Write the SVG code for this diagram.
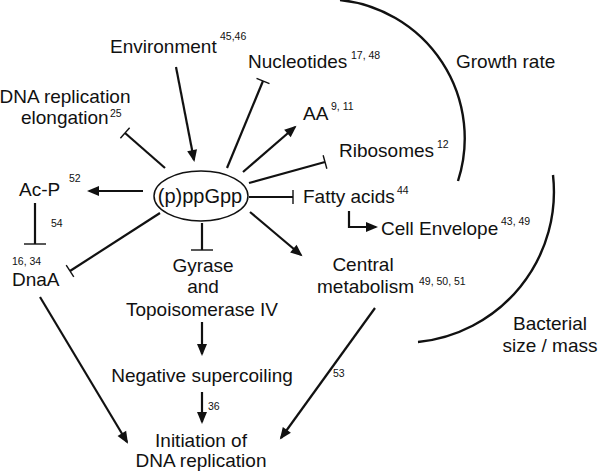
<svg xmlns="http://www.w3.org/2000/svg" width="600" height="474" viewBox="0 0 600 474">
<style>
text{font-family:"Liberation Sans",Arial,sans-serif;fill:#111}
.t{font-size:19px}
.c{text-anchor:middle}
.s{font-size:10.5px}
.e{stroke:#111;stroke-width:2.2;fill:none}
.arc{stroke:#111;stroke-width:2.4;fill:none}
.a{marker-end:url(#arr)}
.i{marker-end:url(#tb)}
.il{marker-end:url(#tbl)}
</style>
<defs>
<marker id="arr" markerUnits="userSpaceOnUse" markerWidth="14" markerHeight="12" viewBox="-12 -6 14 12" refX="0" refY="0" orient="auto" overflow="visible">
<path d="M2,0 L-10,-5 L-10,5 Z" fill="#111"/>
</marker>
<marker id="tb" markerUnits="userSpaceOnUse" markerWidth="4" markerHeight="16" viewBox="-2 -8 4 16" refX="0" refY="0" orient="auto" overflow="visible">
<path d="M0,-7 L0,7" stroke="#111" stroke-width="1.4"/>
</marker>
<marker id="tbl" markerUnits="userSpaceOnUse" markerWidth="4" markerHeight="24" viewBox="-2 -12 4 24" refX="0" refY="0" orient="auto" overflow="visible">
<path d="M0,-11 L0,11" stroke="#111" stroke-width="1.4"/>
</marker>
</defs>
<rect width="600" height="474" fill="#fff"/>

<g id="connectors">
<line class="e a" x1="176" y1="67" x2="194" y2="160"/>
<line class="e i" x1="227" y1="168" x2="263" y2="81"/>
<line class="e i" x1="165" y1="168" x2="125" y2="133"/>
<line class="e a" x1="243" y1="172" x2="295" y2="127"/>
<line class="e i" x1="249" y1="183" x2="325" y2="162"/>
<line class="e i" x1="249" y1="197" x2="293" y2="197"/>
<path class="e a" d="M349,211 V227 H376"/>
<line class="e a" x1="250" y1="212" x2="301" y2="255"/>
<line class="e a" x1="143" y1="191" x2="89" y2="191"/>
<line class="e il" x1="35" y1="203" x2="35" y2="244"/>
<line class="e i" x1="160" y1="213" x2="70" y2="271"/>
<line class="e il" x1="202" y1="223" x2="202" y2="250"/>
<line class="e a" x1="202" y1="322" x2="202" y2="354"/>
<line class="e a" x1="202" y1="392" x2="202" y2="422"/>
<line class="e a" x1="40" y1="297" x2="127" y2="442"/>
<line class="e a" x1="375" y1="308" x2="281" y2="438"/>
<text class="s" x="333" y="377">53</text>
<text class="s" x="208" y="410">36</text>
<text class="s" x="51" y="227">54</text>
</g>

<g id="growth-rate">
<path class="arc" d="M340,0 A139,139 0 0 1 458,181"/>
<text class="t" x="456" y="68">Growth rate</text>
</g>
<g id="bacterial-size">
<path class="arc" d="M553,175 A151,151 0 0 1 418,342"/>
<text class="t c" x="550" y="330">Bacterial</text>
<text class="t c" x="550" y="352">size / mass</text>
</g>

<g id="ppGpp">
<ellipse cx="201" cy="196" rx="47" ry="25" fill="none" stroke="#111" stroke-width="1.5"/>
<text class="c" x="200" y="203" style="font-size:20px">(p)ppGpp</text>
</g>
<g id="environment">
<text class="t" x="110" y="53">Environment</text>
<text class="s" x="220" y="40">45,46</text>
</g>
<g id="nucleotides">
<text class="t" x="248" y="68">Nucleotides</text>
<text class="s" x="351" y="59">17, 48</text>
</g>
<g id="elongation">
<text class="t c" x="65" y="103">DNA replication</text>
<text class="t" x="21" y="124">elongation</text>
<text class="s" x="110" y="117">25</text>
</g>
<g id="aa">
<text class="t" x="303" y="120">AA</text>
<text class="s" x="331" y="110">9, 11</text>
</g>
<g id="ribosomes">
<text class="t" x="339" y="157">Ribosomes</text>
<text class="s" x="437" y="148">12</text>
</g>
<g id="fatty-acids">
<text class="t" x="303" y="203">Fatty acids</text>
<text class="s" x="397" y="194">44</text>
</g>
<g id="cell-envelope">
<text class="t" x="381" y="235">Cell Envelope</text>
<text class="s" x="501" y="225">43, 49</text>
</g>
<g id="central-metabolism">
<text class="t c" x="363" y="271">Central</text>
<text class="t" x="317" y="293">metabolism</text>
<text class="s" x="419" y="285">49, 50, 51</text>
</g>
<g id="ac-p">
<text class="t" x="19" y="196">Ac-P</text>
<text class="s" x="69" y="182">52</text>
</g>
<g id="dnaa">
<text class="s" x="12" y="265">16, 34</text>
<text class="t" x="12" y="286">DnaA</text>
</g>
<g id="gyrase">
<text class="t c" x="203" y="272">Gyrase</text>
<text class="t c" x="203" y="293">and</text>
<text class="t c" x="202" y="316">Topoisomerase IV</text>
</g>
<g id="supercoiling">
<text class="t c" x="202" y="382">Negative supercoiling</text>
</g>
<g id="initiation">
<text class="t c" x="201" y="447">Initiation of</text>
<text class="t c" x="201" y="467">DNA replication</text>
</g>
</svg>
